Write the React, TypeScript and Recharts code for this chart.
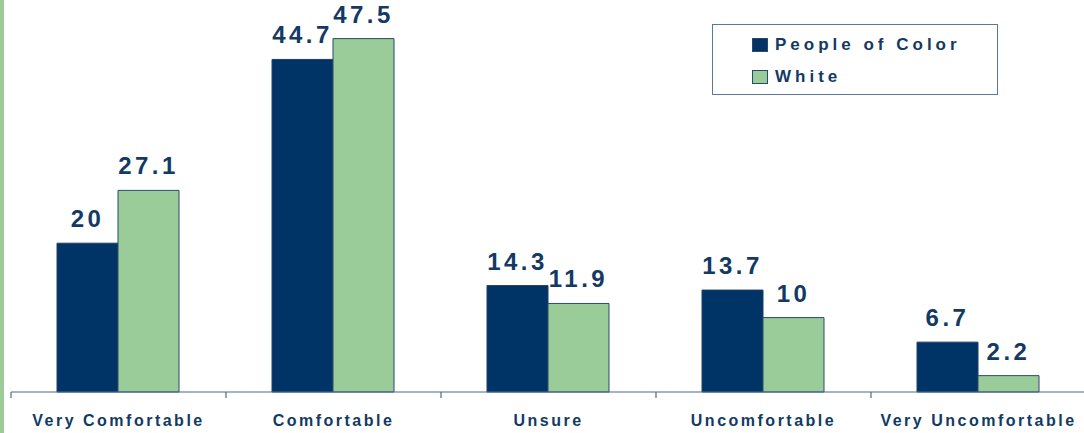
import { BarChart, Bar, XAxis, YAxis, LabelList } from "recharts";

const categories = ["Very Comfortable", "Comfortable", "Unsure", "Uncomfortable", "Very Uncomfortable"];
const peopleOfColor = [20, 44.7, 14.3, 13.7, 6.7];
const white = [27.1, 47.5, 11.9, 10, 2.2];

const NAVY = "#003366";
const GREEN = "#99cc99";
const TEXT = "#123a64";
const AXIS = "#4a6a8e";
const FONT = "'Liberation Sans', Arial, sans-serif";

const data = categories.map((c, i) => ({ category: c, poc: peopleOfColor[i], white: white[i] }));

const BAND = 215;

function Tick(props: any) {
  const { x, y, payload } = props;
  return (
    <g>
      <line x1={x - BAND / 2} x2={x - BAND / 2} y1={y - 8} y2={y - 2} stroke={AXIS} strokeWidth={1.2} />
      <text
        x={x}
        y={y}
        dy={26}
        textAnchor="middle"
        fill={TEXT}
        fontWeight="bold"
        fontFamily={FONT}
        fontSize={16}
        style={{ letterSpacing: 2.5 }}
      >
        {payload.value}
      </text>
    </g>
  );
}

function LegendBox() {
  const items = [
    { label: "People of Color", fill: NAVY },
    { label: "White", fill: GREEN },
  ];
  return (
    <div
      style={{
        position: "absolute",
        left: 712,
        top: 24,
        width: 286,
        height: 71,
        border: "1.5px solid #5b7895",
        boxSizing: "border-box",
        paddingLeft: 39,
        paddingTop: 4,
        fontFamily: FONT,
      }}
    >
      {items.map((it) => (
        <div key={it.label} style={{ display: "flex", alignItems: "center", height: 32 }}>
          <span
            style={{
              display: "inline-block",
              width: 16,
              height: 14,
              background: it.fill,
              border: "1px solid #2b4a6b",
              boxSizing: "border-box",
              marginRight: 7,
            }}
          />
          <span style={{ color: TEXT, fontWeight: 700, fontSize: 17, letterSpacing: 4 }}>{it.label}</span>
        </div>
      ))}
    </div>
  );
}

export default function App() {
  return (
    <div style={{ position: "absolute", left: 0, top: 0, width: 1084, height: 433, overflow: "hidden", background: "#fff" }}>
      <div style={{ position: "absolute", left: 0, top: 0, width: 3.5, height: 433, background: "#9dcc9a" }} />
      <BarChart
        width={1088}
        height={433}
        data={data}
        margin={{ top: 20, right: 2, left: 11, bottom: 0 }}
        barCategoryGap="21.4%"
        barGap={0}
      >
        <XAxis
          dataKey="category"
          height={41}
          tickLine={false}
          axisLine={{ stroke: AXIS, strokeWidth: 1.2 }}
          tick={<Tick />}
          interval={0}
        />
        <YAxis hide domain={[0, 50]} />
        <Bar dataKey="poc" name="People of Color" fill={NAVY} stroke="#1f3f63" strokeWidth={1} isAnimationActive={false}>
          <LabelList
            dataKey="poc"
            position="top"
            offset={16}
            fill={TEXT}
            fontWeight="bold"
            fontFamily={FONT}
            fontSize={24}
            style={{ letterSpacing: 3.5 }}
          />
        </Bar>
        <Bar dataKey="white" name="White" fill={GREEN} stroke="#2b4a6b" strokeWidth={1} isAnimationActive={false}>
          <LabelList
            dataKey="white"
            position="top"
            offset={16}
            fill={TEXT}
            fontWeight="bold"
            fontFamily={FONT}
            fontSize={24}
            style={{ letterSpacing: 3.5 }}
          />
        </Bar>
      </BarChart>
      <LegendBox />
    </div>
  );
}
